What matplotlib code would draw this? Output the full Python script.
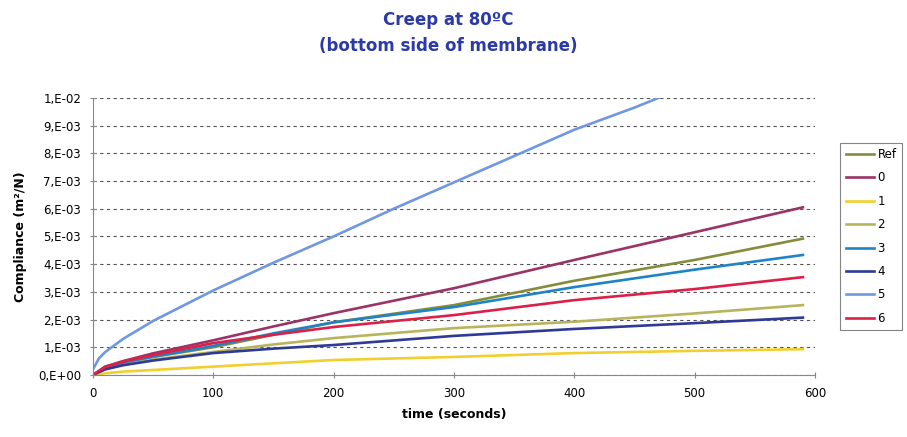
import matplotlib
matplotlib.use('Agg')
import matplotlib.pyplot as plt
from matplotlib.ticker import FixedLocator, FuncFormatter

# time points (s) and compliance values (x1E-03 m2/N)
t = [0, 10, 25, 50, 100, 150, 200, 300, 400, 500, 590]
t5 = [0, 5, 10, 25, 50, 100, 150, 200, 250, 300, 350, 400, 450, 470]

c_ref = [0, 0.25, 0.45, 0.65, 1.00, 1.45, 1.90, 2.52, 3.40, 4.15, 4.92]
c_0 = [0, 0.30, 0.50, 0.78, 1.25, 1.75, 2.23, 3.13, 4.15, 5.15, 6.05]
c_1 = [0, 0.06, 0.12, 0.18, 0.30, 0.42, 0.54, 0.65, 0.79, 0.87, 0.93]
c_2 = [0, 0.20, 0.38, 0.55, 0.83, 1.10, 1.33, 1.69, 1.92, 2.22, 2.52]
c_3 = [0, 0.25, 0.45, 0.66, 1.05, 1.50, 1.90, 2.45, 3.17, 3.80, 4.33]
c_4 = [0, 0.20, 0.35, 0.52, 0.79, 0.95, 1.08, 1.41, 1.66, 1.87, 2.07]
c_5 = [0.20, 0.60, 0.82, 1.30, 1.95, 3.05, 4.05, 5.00, 6.00, 6.95, 7.90, 8.85, 9.65, 10.0]
c_6 = [0, 0.28, 0.48, 0.72, 1.15, 1.45, 1.73, 2.16, 2.70, 3.10, 3.53]

names = ['Ref', '0', '1', '2', '3', '4', '5', '6']
colors = ['#858c3a', '#9b3366', '#f2cf2e', '#b8b45c', '#1f84c6', '#2e3a96', '#6f97e2', '#dc2048']

series = [(t, c_ref), (t, c_0), (t, c_1), (t, c_2), (t, c_3), (t, c_4), (t5, c_5), (t, c_6)]

fig = plt.figure(figsize=(9.07, 4.37), dpi=100)
ax = fig.add_axes([0.1025, 0.142, 0.796, 0.634])

for (x, y), name, col in zip(series, names, colors):
    ax.plot(x, [v * 1e-3 for v in y], color=col, linewidth=1.9, label=name)

ax.set_xlim(0, 600)
ax.set_ylim(0, 0.01)
ax.set_xticks(range(0, 601, 100))
ax.yaxis.set_major_locator(FixedLocator([i * 1e-3 for i in range(11)]))


def fmt(v, pos):
    n = int(round(v * 1e3))
    if n == 0:
        return '0,E+00'
    if n == 10:
        return '1,E-02'
    return '%d,E-03' % n


ax.yaxis.set_major_formatter(FuncFormatter(fmt))
ax.grid(axis='y', color='#555555', linestyle=(0, (3, 3)), linewidth=0.8)
ax.set_axisbelow(True)
for s in ['top', 'right']:
    ax.spines[s].set_visible(False)
for s in ['left', 'bottom']:
    ax.spines[s].set_color('#888888')
ax.tick_params(direction='inout', length=5, color='#888888', labelsize=8.5, pad=6)

ax.set_xlabel('time (seconds)', fontsize=9, fontweight='bold', labelpad=6)
ax.set_ylabel('Compliance (m²/N)', fontsize=9, fontweight='bold', labelpad=8)
fig.text(0.494, 0.925, 'Creep at 80ºC\n(bottom side of membrane)', ha='center', va='center',
         fontsize=12, fontweight='bold', color='#2b3aa6', linespacing=1.6)

leg = ax.legend(loc='upper left', bbox_to_anchor=(1.035, 0.838), fontsize=8.5, frameon=True,
                fancybox=False, edgecolor='#666666', handlelength=2.4, handletextpad=0.3,
                labelspacing=0.88, borderpad=0.45, borderaxespad=0)
leg.get_frame().set_linewidth(0.8)

fig.savefig('out.png', dpi=100)
